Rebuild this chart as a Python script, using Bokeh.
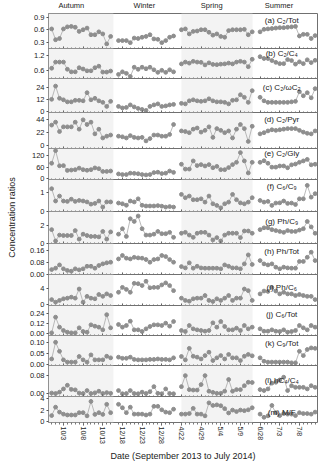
import math
from bokeh.plotting import figure
from bokeh.layouts import column, row
from bokeh.models import Range1d, FixedTicker, PrintfTickFormatter, Label, BoxAnnotation
from bokeh.core.properties import value
from bokeh.embed import file_html
from bokeh.resources import INLINE

# ---------------- data ----------------
seasons = ["Autumn", "Winter", "Spring", "Summer"]
autumn_idx = list(range(0, 16))
winter_idx = list(range(17, 32))
spring_idx = list(range(33, 52))
summer_idx = list(range(53, 68))
season_idx = [autumn_idx, winter_idx, spring_idx, summer_idx]

tick_idx = [3, 8, 13, 18, 23, 28, 33, 38, 43, 48, 53, 58, 63]
tick_labels = ["10/3", "10/8", "10/13", "12/18", "12/23", "12/28",
               "4/22", "4/29", "5/4", "5/9", "6/28", "7/3", "7/8"]

c2_tot = [
    [0.62, 0.36, 0.39, 0.62, 0.67, 0.68, 0.66, 0.56, 0.60, 0.64, 0.48, 0.48, 0.55, 0.50, 0.26, 0.44],
    [0.34, 0.34, 0.34, 0.29, 0.40, 0.39, 0.42, 0.44, 0.48, 0.38, 0.37, 0.29, 0.34, 0.42, 0.45],
    [0.60, 0.62, 0.50, 0.56, 0.57, 0.60, 0.60, 0.54, 0.47, 0.50, 0.44, 0.42, 0.58, 0.60, 0.60, 0.60, 0.61, 0.48, 0.55],
    [0.55, 0.61, 0.62, 0.63, 0.64, 0.65, 0.65, 0.66, 0.67, 0.68, 0.45, 0.49, 0.49, 0.39, 0.46],
]
c2_c4 = [
    [0.70, 0.94, 0.94, 0.94, 0.66, 0.56, 0.56, 0.72, 0.67, 0.60, 0.60, 0.72, 0.78, 0.55, 0.55, 0.59],
    [0.46, 0.56, 0.50, 0.38, 0.74, 0.66, 0.74, 0.68, 0.74, 0.64, 0.54, 0.62, 0.54, 0.64, 0.56],
    [0.87, 0.94, 0.90, 0.97, 0.94, 0.93, 0.83, 0.91, 0.85, 0.84, 0.86, 0.87, 0.90, 0.87, 0.94, 0.97, 0.94, 0.76, 1.05],
    [1.15, 1.08, 1.08, 1.00, 0.93, 0.88, 0.88, 1.04, 1.00, 0.86, 0.95, 0.88, 1.03, 0.92, 1.01],
]
c2_wc2 = [
    [12.5, 25.5, 13.5, 12, 10, 10, 11.5, 11.5, 11, 19, 12, 13.5, 11, 9.5, 5.5, 10.5],
    [5.5, 4, 4.5, 7, 5, 3.5, 2.5, 1.5, 5.5, 7, 8, 5.5, 6, 7, 7.5],
    [8.5, 8, 11, 12, 11, 10.5, 11, 13, 11, 10, 10, 9.5, 8, 11.5, 12, 17, 14.5, 9.5, 21],
    [14.5, 11, 9.5, 9.5, 9.5, 9.5, 9.5, 9.5, 10, 10.5, 20, 16, 19, 14, 23],
]
c2_pyr = [
    [35, 40, 24, 32, 32, 32, 40, 28, 44, 36, 40, 20, 28, 13, 16, 18],
    [16, 15, 13, 17, 14, 13, 14, 8, 12, 18, 18, 16, 16, 19, 36],
    [25, 24, 22, 28, 30, 23, 26, 32, 14, 29, 26, 22, 25, 13, 28, 36, 29, 7, 33],
    [20, 22, 25, 27, 26, 27, 28, 29, 29, 29, 26, 23, 21, 20, 25],
]
c2_gly = [
    [80, 145, 67, 68, 43, 45, 47, 55, 47, 44, 47, 56, 52, 38, 38, 40],
    [25, 22, 22, 29, 28, 26, 22, 20, 22, 32, 34, 27, 29, 40, 33],
    [75, 50, 50, 92, 68, 73, 66, 73, 57, 64, 47, 47, 58, 73, 85, 135, 92, 30, 85],
    [85, 93, 80, 60, 60, 66, 66, 57, 72, 76, 85, 92, 100, 72, 75],
]
c6_c9 = [
    [1.22, 0.55, 0.82, 0.55, 0.53, 0.65, 0.53, 0.58, 0.55, 0.50, 0.38, 0.42, 0.55, 0.22, 0.50, 0.50],
    [0.44, 0.40, 0.32, 0.55, 0.50, 0.67, 0.32, 0.28, 0.28, 0.28, 0.30, 0.27, 0.22, 0.25, 0.22],
    [0.91, 0.73, 0.82, 0.62, 0.62, 0.67, 0.49, 0.82, 0.40, 0.31, 0.18, 0.40, 0.49, 0.91, 0.62, 0.45, 0.40, 0.49, 0.73],
    [0.58, 0.49, 0.53, 0.31, 0.44, 0.45, 0.55, 0.42, 0.44, 0.36, 0.67, 0.67, 1.40, 0.76, 0.95],
]
ph_c9 = [
    [1.5, 0.25, 0.9, 0.85, 0.85, 0.85, 1.4, 0.45, 1.0, 0.85, 0.75, 0.75, 0.7, 1.3, 0.45, 1.25],
    [1.0, 1.6, 0.75, 2.7, 2.4, 3.0, 1.6, 0.9, 0.9, 1.0, 1.3, 1.05, 1.05, 1.2, 0.65],
    [1.1, 1.2, 0.9, 0.65, 1.1, 1.2, 1.2, 0.9, 0.36, 0.62, 0.25, 0.9, 1.1, 1.1, 1.1, 0.62, 1.35, 1.35, 1.1],
    [1.5, 1.7, 1.7, 1.5, 1.4, 1.3, 1.2, 1.4, 1.3, 1.3, 1.45, 1.6, 2.4, 1.8, 1.1],
]
ph_tot = [
    [0.033, 0.042, 0.064, 0.038, 0.027, 0.022, 0.038, 0.031, 0.038, 0.055, 0.055, 0.042, 0.060, 0.071, 0.078, 0.082],
    [0.104, 0.127, 0.109, 0.104, 0.115, 0.111, 0.109, 0.100, 0.082, 0.100, 0.104, 0.127, 0.120, 0.100, 0.082],
    [0.053, 0.044, 0.078, 0.042, 0.055, 0.044, 0.042, 0.042, 0.042, 0.042, 0.038, 0.064, 0.055, 0.044, 0.044, 0.038, 0.071, 0.131, 0.067],
    [0.093, 0.071, 0.064, 0.071, 0.049, 0.038, 0.049, 0.044, 0.042, 0.042, 0.087, 0.087, 0.115, 0.149, 0.093],
]
ph_c6 = [
    [1.2, 0.57, 1.0, 1.4, 1.55, 1.8, 1.55, 3.8, 0.57, 2.0, 1.55, 1.4, 2.45, 2.0, 2.6, 2.2],
    [3.0, 4.2, 3.7, 3.0, 5.2, 5.1, 4.65, 5.7, 4.1, 4.2, 4.2, 4.8, 5.3, 4.65, 3.4],
    [1.55, 1.0, 0.8, 1.4, 1.55, 1.55, 2.2, 1.0, 0.73, 1.4, 1.0, 1.55, 2.2, 1.0, 1.55, 1.55, 3.8, 3.4, 1.0],
    [2.6, 3.3, 3.2, 4.2, 3.3, 2.6, 3.0, 2.6, 2.6, 2.2, 2.45, 2.2, 2.0, 2.0, 1.2],
]
c6_tot = [
    [0.012, 0.20, 0.08, 0.04, 0.02, 0.012, 0.012, 0.072, 0.028, 0.02, 0.108, 0.092, 0.08, 0.048, 0.23, 0.072],
    [0.112, 0.08, 0.10, 0.152, 0.048, 0.048, 0.028, 0.06, 0.088, 0.108, 0.108, 0.10, 0.128, 0.092, 0.148],
    [0.04, 0.028, 0.10, 0.06, 0.048, 0.04, 0.032, 0.04, 0.132, 0.08, 0.148, 0.088, 0.048, 0.048, 0.068, 0.04, 0.10, 0.06, 0.08],
    [0.06, 0.032, 0.032, 0.048, 0.032, 0.028, 0.048, 0.02, 0.028, 0.04, 0.10, 0.072, 0.048, 0.10, 0.08],
]
c9_tot = [
    [0.026, 0.10, 0.06, 0.022, 0.012, 0.012, 0.012, 0.037, 0.022, 0.012, 0.044, 0.022, 0.022, 0.022, 0.038, 0.031],
    [0.034, 0.029, 0.029, 0.034, 0.024, 0.022, 0.022, 0.022, 0.024, 0.024, 0.026, 0.024, 0.024, 0.022, 0.031],
    [0.037, 0.022, 0.073, 0.038, 0.034, 0.026, 0.041, 0.056, 0.019, 0.031, 0.041, 0.026, 0.046, 0.031, 0.031, 0.019, 0.038, 0.046, 0.04],
    [0.031, 0.016, 0.012, 0.012, 0.012, 0.012, 0.012, 0.012, 0.009, 0.009, 0.06, 0.041, 0.068, 0.075, 0.073],
]
hc4_c4 = [
    [0.004, 0.002, 0.008, 0.022, 0.038, 0.020, 0.018, 0.004, 0.002, 0.015, 0.002, 0.005, 0.012, 0.002, 0.006, 0.003],
    [0.015, 0.001, 0.002, 0.015, 0.002, 0.001, 0.008, 0.002, 0.010, 0.032, 0.003, 0.001, 0.022, 0.002, 0.001],
    [0.032, 0.080, 0.019, 0.017, 0.017, 0.041, 0.080, 0.012, 0.007, 0.003, 0.003, 0.012, 0.063, 0.012, 0.019, 0.019, 0.036, 0.051, 0.050],
    [0.019, 0.015, 0.022, 0.047, 0.051, 0.061, 0.073, 0.015, 0.036, 0.029, 0.029, 0.029, 0.022, 0.036, 0.029],
]
m_f = [
    [1.05, 2.5, 1.65, 1.3, 1.15, 1.15, 1.15, 1.55, 1.55, 1.0, 3.5, 1.25, 1.55, 1.25, 3.0, 1.55],
    [3.0, 2.4, 1.55, 2.5, 1.3, 1.3, 1.3, 1.15, 1.3, 2.65, 2.65, 2.05, 1.65, 1.55, 2.15],
    [1.3, 1.3, 1.4, 2.3, 1.3, 1.3, 1.0, 3.25, 2.8, 2.9, 2.75, 2.25, 1.5, 2.0, 1.75, 2.0, 1.9, 2.05, 2.4],
    [1.3, 0.75, 1.0, 2.8, 1.55, 1.05, 1.4, 1.3, 1.3, 1.05, 1.55, 1.4, 1.4, 1.3, 1.65],
]

panel_titles = ["(a) C₂/Tot", "(b) C₂/C₄", "(c) C₂/ωC₂", "(d) C₂/Pyr", "(e) C₂/Gly",
                "(f) C₆/C₉", "(g) Ph/C₉", "(h) Ph/Tot", "(i) Ph/C₆", "(j) C₆/Tot",
                "(k) C₉/Tot", "(l) hC₄/C₄", "(m) M/F"]
panel_data = [c2_tot, c2_c4, c2_wc2, c2_pyr, c2_gly, c6_c9, ph_c9, ph_tot, ph_c6,
              c6_tot, c9_tot, hc4_c4, m_f]
y_ranges = [(0.15, 0.99), (0.30, 1.47), (-0.5, 33), (-5, 56.5), (-3.6, 156), (-0.02, 1.72),
            (-0.03, 3.5), (0.0, 0.207), (-0.25, 7.36), (-0.02, 0.34), (-0.003, 0.13),
            (-0.011, 0.124), (-0.15, 4.35)]
y_ticks = [[0.3, 0.6, 0.9], [0.6, 1.2], [0, 12, 24], [0, 22, 44], [0, 60, 120], [0, 1],
           [0, 2], [0.0, 0.08, 0.16], [0, 4], [0.0, 0.12, 0.24], [0.0, 0.05, 0.10],
           [0.0, 0.08], [0, 2, 4]]
y_fmt = ["%.1f", "%.1f", "%d", "%d", "%d", "%d", "%d", "%.2f", "%d", "%.2f", "%.2f", "%.2f", "%d"]

# ---------------- style / layout ----------------
FONT = "Liberation Sans"
TXT = "#222222"
frame_h = [35, 30, 34, 36, 31, 32, 32, 31, 31, 30, 30, 31, 31]
title_off = [7, 5, 9, 7, 5, 7, 10, 8, 13, 9, 8, 15, 16]
season_label_x = [5.0, 23.6, 40.7, 57.8]
HEADER = 13
PAD = 5
BOTTOM = 37
minor_idx = [j for s in season_idx for j in s]

x_range = Range1d(-0.8, 67.6)

# header strip with the season names
header = figure(width=300, height=HEADER, x_range=x_range, y_range=Range1d(0, HEADER),
                output_backend="svg", toolbar_location=None,
                min_border_left=28, min_border_right=3, min_border_top=0, min_border_bottom=0,
                x_axis_location=None, y_axis_location=None)
header.outline_line_color = None
header.border_fill_color = None
header.background_fill_color = None
header.grid.visible = False
header.text(x=season_label_x, y=[HEADER - 5] * len(seasons), text=seasons,
            text_align="center", text_baseline="middle",
            text_font=value(FONT), text_font_size="7.5px", text_color=TXT)

figs = [header]
n = len(panel_data)
for i in range(n):
    last = i == n - 1
    bottom = BOTTOM if last else PAD
    lo, hi = y_ranges[i]
    p = figure(width=300, height=PAD + frame_h[i] + bottom,
               x_range=x_range, y_range=Range1d(lo, hi),
               output_backend="svg", toolbar_location=None,
               min_border_left=28, min_border_right=3,
               min_border_top=PAD, min_border_bottom=bottom,
               margin=(-PAD if i == 0 else -2 * PAD, 0, 0, 0))
    p.border_fill_color = None
    p.background_fill_color = None
    p.outline_line_color = "#707070"
    p.outline_line_width = 1
    p.grid.visible = False

    p.add_layout(BoxAnnotation(right=15.7, fill_color="#f3f3f3", fill_alpha=1.0,
                               line_color=None, level="underlay"))
    p.add_layout(BoxAnnotation(left=33.0, right=51.1, fill_color="#f3f3f3", fill_alpha=1.0,
                               line_color=None, level="underlay"))

    yax = p.yaxis[0]
    yax.ticker = FixedTicker(ticks=y_ticks[i])
    yax.formatter = PrintfTickFormatter(format=y_fmt[i])
    yax.axis_line_color = None
    yax.major_tick_in = 0
    yax.major_tick_out = 2
    yax.major_tick_line_color = "#555555"
    yax.minor_tick_line_color = None
    yax.major_label_standoff = 2
    yax.major_label_text_font = FONT
    yax.major_label_text_font_size = "7.5px"
    yax.major_label_text_color = TXT

    xax = p.xaxis[0]
    xax.ticker = FixedTicker(ticks=tick_idx, minor_ticks=minor_idx)
    xax.axis_line_color = None
    xax.major_tick_line_color = "#555555"
    xax.minor_tick_line_color = "#777777"
    if last:
        xax.major_label_overrides = {t: lab for t, lab in zip(tick_idx, tick_labels)}
        xax.major_label_orientation = "vertical"
        xax.major_tick_in = 0
        xax.major_tick_out = 3
        xax.minor_tick_in = 0
        xax.minor_tick_out = 2
        xax.major_label_standoff = 1
        xax.major_label_text_font = FONT
        xax.major_label_text_font_size = "7px"
        xax.major_label_text_color = TXT
        xax.axis_label = "Date (September 2013 to July 2014)"
        xax.axis_label_text_font = FONT
        xax.axis_label_text_font_size = "9px"
        xax.axis_label_text_font_style = "normal"
        xax.axis_label_text_color = TXT
        xax.axis_label_standoff = 4
    else:
        xax.major_tick_in = 2
        xax.major_tick_out = 0
        xax.minor_tick_in = 1
        xax.minor_tick_out = 0
        xax.major_label_standoff = 0
        xax.major_label_text_font_size = "0px"
        xax.major_label_text_color = None

    for idx, vals in zip(season_idx, panel_data[i]):
        p.line(idx, vals, line_color="#a8a8a8", line_width=0.8)
        p.scatter(idx, vals, size=3.8, fill_color="#8e8e8e", line_color="#8e8e8e")

    p.add_layout(Label(x=58.5, y=hi, y_offset=-title_off[i], text=panel_titles[i],
                       text_align="center", text_baseline="middle",
                       text_font=FONT, text_font_size="8px", text_color=TXT))
    figs.append(p)

total_h = HEADER + sum(frame_h) + BOTTOM
lab = figure(width=20, height=total_h, x_range=Range1d(0, 20), y_range=Range1d(0, total_h),
             output_backend="svg", toolbar_location=None, min_border=0,
             x_axis_location=None, y_axis_location=None)
lab.outline_line_color = None
lab.border_fill_color = None
lab.background_fill_color = None
lab.grid.visible = False
lab.add_layout(Label(x=11, y=BOTTOM + sum(frame_h) / 2 + 3, text="Concentration ratios",
                     angle=math.pi / 2, text_align="center", text_baseline="middle",
                     text_font=FONT, text_font_size="9px", text_color=TXT))

layout = row(lab, column(*figs))
open("out.html", "w").write(file_html(layout, INLINE, "Concentration ratios"))
